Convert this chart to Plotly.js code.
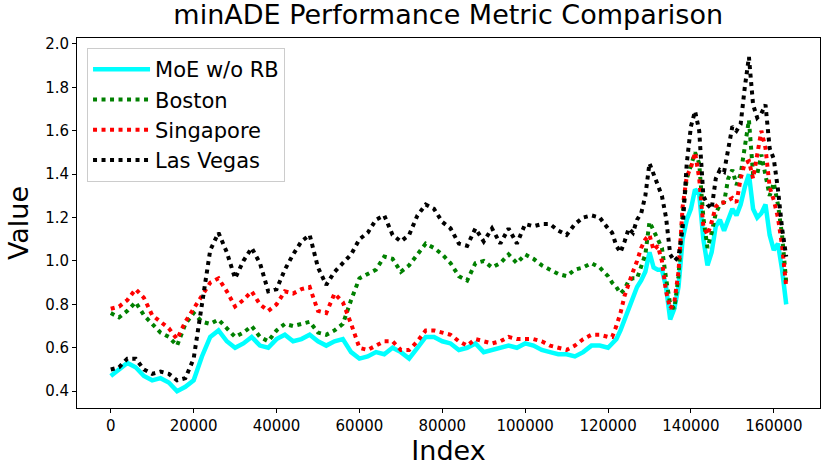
<!DOCTYPE html>
<html>
<head>
<meta charset="utf-8">
<script src="https://cdn.plot.ly/plotly-3.0.1.min.js"></script>
<style>
  html, body { margin: 0; padding: 0; background: #fff; }
  #chart { width: 830px; height: 474px; }
</style>
</head>
<body>
<div id="chart"></div>
<script>
// sample index positions (coarse up to 120000, finer afterwards)
const idx = [
  0, 2000, 4000, 6000, 8000, 10000, 12000, 14000, 16000, 18000,
  20000, 22000, 24000, 26000, 28000, 30000, 32000, 34000, 36000, 38000,
  40000, 42000, 44000, 46000, 48000, 50000, 52000, 54000, 56000, 58000,
  60000, 62000, 64000, 66000, 68000, 70000, 72000, 74000, 76000, 78000,
  80000, 82000, 84000, 86000, 88000, 90000, 92000, 94000, 96000, 98000,
  100000, 102000, 104000, 106000, 108000, 110000, 112000, 114000, 116000, 118000,
  120000, 121000, 122000, 123000, 124000, 125000, 126000, 127000, 128000, 129000,
  130000, 131000, 132000, 133000, 134000, 135000, 136000, 137000, 138000, 139000,
  140000, 141000, 142000, 143000, 144000, 145000, 146000, 147000, 148000, 149000,
  150000, 151000, 152000, 153000, 154000, 155000, 156000, 157000, 158000, 159000,
  160000, 161000, 162000, 163000
];

const moeNoRB = [
  0.47, 0.50, 0.53, 0.51, 0.47, 0.45, 0.46, 0.44, 0.40, 0.42,
  0.45, 0.56, 0.65, 0.68, 0.63, 0.60, 0.62, 0.65, 0.61, 0.60,
  0.64, 0.66, 0.63, 0.64, 0.66, 0.63, 0.61, 0.63, 0.64, 0.58,
  0.55, 0.56, 0.58, 0.57, 0.60, 0.58, 0.55, 0.60, 0.65, 0.65,
  0.63, 0.62, 0.59, 0.60, 0.62, 0.58, 0.59, 0.60, 0.61, 0.60,
  0.62, 0.61, 0.59, 0.58, 0.57, 0.57, 0.56, 0.58, 0.61, 0.61,
  0.60, 0.62, 0.64, 0.68, 0.73, 0.79, 0.83, 0.88, 0.91, 0.95,
  1.04, 0.97, 0.96, 0.96, 0.88, 0.73, 0.78, 0.88, 1.10, 1.19,
  1.24, 1.33, 1.31, 1.10, 0.98, 1.04, 1.16, 1.19, 1.14, 1.19,
  1.24, 1.21, 1.26, 1.34, 1.40, 1.24, 1.20, 1.22, 1.26, 1.12,
  1.05, 1.08, 0.96, 0.80
];

const boston = [
  0.76, 0.74, 0.77, 0.81, 0.75, 0.71, 0.67, 0.65, 0.61, 0.71,
  0.76, 0.72, 0.71, 0.73, 0.69, 0.65, 0.67, 0.70, 0.65, 0.63,
  0.68, 0.71, 0.70, 0.71, 0.72, 0.67, 0.66, 0.68, 0.71, 0.82,
  0.92, 0.94, 0.96, 1.02, 1.01, 0.95, 0.98, 1.03, 1.08, 1.06,
  1.03, 0.99, 0.93, 0.91, 0.99, 1.00, 0.97, 0.99, 1.03, 0.99,
  1.03, 1.01, 0.98, 0.96, 0.94, 0.93, 0.96, 0.97, 0.99, 0.97,
  0.93, 0.90, 0.88, 0.85, 0.87, 0.91, 0.92, 0.92, 0.97, 1.03,
  1.18, 1.14, 1.10, 1.06, 0.92, 0.80, 0.78, 0.93, 1.22, 1.38,
  1.44, 1.50, 1.45, 1.20, 1.06, 1.13, 1.22, 1.26, 1.27, 1.38,
  1.42, 1.35, 1.40, 1.52, 1.65, 1.40, 1.40, 1.49, 1.40, 1.30,
  1.36, 1.26, 1.12, 0.90
];

const singapore = [
  0.78, 0.79, 0.82, 0.87, 0.83, 0.75, 0.72, 0.69, 0.64, 0.72,
  0.78, 0.84, 0.90, 0.92, 0.86, 0.79, 0.82, 0.86, 0.80, 0.77,
  0.80, 0.86, 0.85, 0.87, 0.88, 0.77, 0.76, 0.85, 0.81, 0.71,
  0.60, 0.59, 0.61, 0.63, 0.63, 0.59, 0.59, 0.63, 0.68, 0.68,
  0.67, 0.66, 0.63, 0.61, 0.64, 0.63, 0.62, 0.63, 0.65, 0.64,
  0.64, 0.64, 0.63, 0.61, 0.60, 0.59, 0.61, 0.64, 0.66, 0.66,
  0.65, 0.65, 0.70, 0.76, 0.84, 0.90, 0.95, 1.00, 1.06, 1.10,
  1.12, 1.05, 1.07, 1.00, 0.86, 0.78, 0.81, 0.95, 1.25, 1.39,
  1.43, 1.50, 1.38, 1.16, 1.12, 1.18, 1.25, 1.27, 1.27, 1.28,
  1.29, 1.27, 1.38, 1.45, 1.46, 1.38, 1.50, 1.60, 1.52, 1.34,
  1.28, 1.20, 1.07, 0.88
];

const lasVegas = [
  0.50, 0.51, 0.55, 0.55, 0.50, 0.48, 0.49, 0.48, 0.45, 0.46,
  0.55, 0.80, 1.05, 1.13, 1.04, 0.92, 1.00, 1.06, 0.99, 0.86,
  0.87, 0.96, 1.03, 1.09, 1.12, 0.97, 0.89, 0.95, 0.99, 1.03,
  1.10, 1.13, 1.19, 1.21, 1.12, 1.09, 1.12, 1.21, 1.26, 1.24,
  1.18, 1.15, 1.08, 1.07, 1.15, 1.09, 1.15, 1.08, 1.15, 1.08,
  1.17, 1.16, 1.17, 1.17, 1.14, 1.12, 1.17, 1.20, 1.21, 1.20,
  1.15, 1.13, 1.07, 1.04, 1.09, 1.15, 1.13, 1.19, 1.22, 1.30,
  1.45, 1.40, 1.35, 1.30, 1.20, 1.03, 1.00, 1.02, 1.15, 1.45,
  1.62, 1.69, 1.60, 1.30, 1.26, 1.24, 1.38, 1.42, 1.41, 1.52,
  1.62, 1.60, 1.63, 1.80, 1.94, 1.72, 1.66, 1.68, 1.72, 1.52,
  1.47, 1.33, 1.15, 1.02
];

const xTicks = [0, 20000, 40000, 60000, 80000, 100000, 120000, 140000, 160000];
const yTicks = [0.4, 0.6, 0.8, 1.0, 1.2, 1.4, 1.6, 1.8, 2.0];

const font = 'DejaVu Sans, sans-serif';
const dots = '4px,4.5px';

const traces = [
  { x: idx, y: moeNoRB, name: 'MoE w/o RB', line: { color: '#00ffff', width: 4.5 } },
  { x: idx, y: boston, name: 'Boston', line: { color: '#008000', width: 4, dash: dots } },
  { x: idx, y: singapore, name: 'Singapore', line: { color: '#ff0000', width: 4, dash: dots } },
  { x: idx, y: lasVegas, name: 'Las Vegas', line: { color: '#000000', width: 4, dash: dots } },
].map(t => Object.assign({ type: 'scatter', mode: 'lines' }, t));

const layout = {
  width: 830,
  height: 474,
  paper_bgcolor: '#fff',
  plot_bgcolor: '#fff',
  margin: { l: 77, r: 10, t: 38, b: 66 },
  font: { family: font, color: '#000' },
  title: {
    text: 'minADE Performance Metric Comparison',
    font: { size: 27, family: font, color: '#000' },
    x: 0.54, xanchor: 'center', y: 0.99, yanchor: 'top',
  },
  xaxis: {
    range: [-8150, 171150],
    tickvals: xTicks,
    ticktext: xTicks.map(String),
    ticks: 'outside', ticklen: 4, tickwidth: 1, tickcolor: '#000',
    tickfont: { size: 15 },
    showgrid: false, zeroline: false,
    showline: true, mirror: true, linecolor: '#000', linewidth: 1,
    title: { text: 'Index', font: { size: 27 }, standoff: 6 },
  },
  yaxis: {
    range: [0.3225, 2.0275],
    tickvals: yTicks,
    ticktext: yTicks.map(v => v.toFixed(1)),
    ticks: 'outside', ticklen: 4, tickwidth: 1, tickcolor: '#000',
    tickfont: { size: 15 },
    showgrid: false, zeroline: false,
    showline: true, mirror: true, linecolor: '#000', linewidth: 1,
    title: { text: 'Value', font: { size: 27 }, standoff: 8 },
  },
  showlegend: true,
  legend: {
    x: 0.0135, y: 0.973, xanchor: 'left', yanchor: 'top',
    bgcolor: 'rgba(255,255,255,0.8)',
    bordercolor: '#cccccc', borderwidth: 1,
    itemwidth: 57,
    font: { size: 21, family: font },
  },
};

Plotly.newPlot('chart', traces, layout, { displayModeBar: false, staticPlot: true });
</script>
</body>
</html>
